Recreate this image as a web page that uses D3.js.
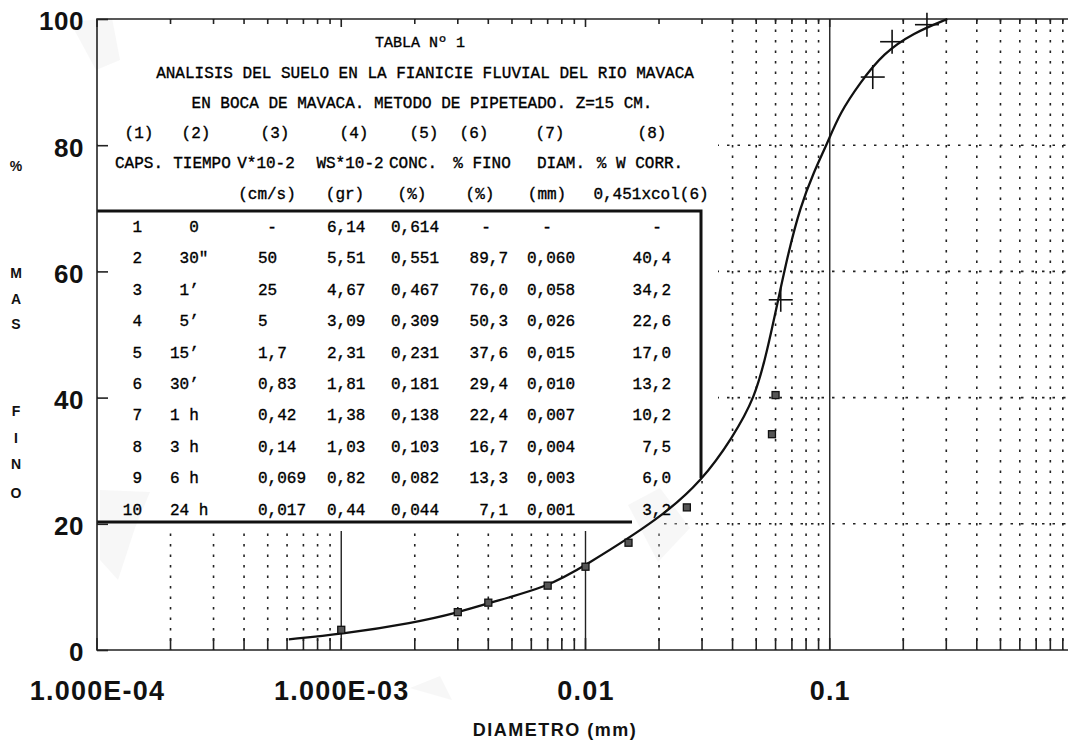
<!DOCTYPE html>
<html>
<head>
<meta charset="utf-8">
<script src="https://cdn.jsdelivr.net/npm/d3@7"></script>
<style>
body { margin: 0; background: #fff; }
</style>
</head>
<body>
<svg width="1068" height="740"></svg>
<script>
// ---- TABLA Nº 1 (typed sheet pasted on the plot) ----
var caps      = ["1","2","3","4","5","6","7","8","9","10"];
var tiempo    = ["\u00a0\u00a00","\u00a030\"","\u00a01\u2019","\u00a05\u2019","15\u2019","30\u2019","1 h","3 h","6 h","24 h"];
var velocidad = ["-","50","25","5","1,7","0,83","0,42","0,14","0,069","0,017"];
var pesoWs    = ["6,14","5,51","4,67","3,09","2,31","1,81","1,38","1,03","0,82","0,44"];
var conc      = ["0,614","0,551","0,467","0,309","0,231","0,181","0,138","0,103","0,082","0,044"];
var pctFino   = ["-","89,7","76,0","50,3","37,6","29,4","22,4","16,7","13,3","7,1"];
var diam      = ["-","0,060","0,058","0,026","0,015","0,010","0,007","0,004","0,003","0,001"];
var wCorr     = ["-","40,4","34,2","22,6","17,0","13,2","10,2","7,5","6,0","3,2"];

var titleLines = ["TABLA N\u00ba 1",
                  "ANALISIS DEL SUELO EN LA FIANICIE FLUVIAL DEL RIO MAVACA",
                  "EN BOCA DE MAVACA. METODO DE PIPETEADO. Z=15 CM."];
var colNumbers = ["(1)","(2)","(3)","(4)","(5)","(6)","(7)","(8)"];
var colNames   = ["CAPS.","TIEMPO","V*10-2","WS*10-2","CONC.","% FINO","DIAM.","% W CORR."];
var colUnits   = ["","","(cm/s)","(gr)","(%)","(%)","(mm)","0,451xcol(6)"];

// ---- sieve points (crosses) ----
var sieveDiam = [0.063, 0.15, 0.18, 0.25];
var sieveFino = [55.5, 90.8, 96.4, 99.1];

// ---- drawn curve ----
var curveDiam = [0.00061,0.001,0.00198,0.00299,0.00397,0.0070,0.0098,0.0203,0.0301,0.0399,0.0495,0.0555,0.0615,0.0676,0.0757,0.0857,0.0977,0.110,0.133,0.166,0.220,0.303];
var curveFino = [1.7,2.5,4.3,5.9,7.4,10.0,13.2,20.9,26.9,33.6,40.0,47.5,55.5,62.9,70.2,75.6,80.3,85.1,89.9,94.6,97.8,100];

// ---- axes ----
var yTicks = [0,20,40,60,80,100];
var xLabelValues = [1e-4,1e-3,1e-2,1e-1];
var xLabels = ["1.000E-04","1.000E-03","0.01","0.1"];
var yTitle = ["%","M","A","S","F","I","N","O"];

var toNum = function(s) { return +s.replace(",", "."); };

var xScale = d3.scaleLog().domain([1e-4, 1]).range([97, 1074]);
var yScale = d3.scaleLinear().domain([0, 100]).range([650, 19]);

var svg = d3.select("svg");
var top_ = yScale(100), bottom = yScale(0), left = xScale(1e-4), right = xScale(1);

var allTicks = xScale.ticks();
var decades = [1e-3, 1e-2, 1e-1];
var isDecade = function(d) { return Math.abs(Math.log10(d) - Math.round(Math.log10(d))) < 1e-6; };

// dotted grid
var grid = svg.append("g").attr("stroke", "#222").attr("stroke-width", 1.6).attr("stroke-dasharray", "2.5,8");
grid.selectAll(".vx")
    .data(allTicks.filter(function(d){ return !isDecade(d); }))
    .enter().append("line")
    .attr("x1", function(d){ return xScale(d); })
    .attr("x2", function(d){ return xScale(d); })
    .attr("y1", top_).attr("y2", bottom);
grid.selectAll(".hy")
    .data([20,40,60,80])
    .enter().append("line")
    .attr("x1", left).attr("x2", right)
    .attr("y1", function(d){ return yScale(d); })
    .attr("y2", function(d){ return yScale(d); });

// solid decade lines
svg.append("g").selectAll("line")
    .data(decades)
    .enter().append("line")
    .attr("x1", function(d){ return xScale(d); })
    .attr("x2", function(d){ return xScale(d); })
    .attr("y1", top_).attr("y2", bottom)
    .attr("stroke", "#222").attr("stroke-width", 1.4);

// paper of the table covers the grid
svg.append("rect").attr("x", left + 1).attr("y", top_ + 1).attr("width", 717 - left).attr("height", 478 - top_).attr("fill", "#fff");
svg.append("rect").attr("x", left + 1).attr("y", 470).attr("width", 663 - left).attr("height", 61).attr("fill", "#fff");

// faint tape patches
var tape = svg.append("g").attr("fill", "#e4e4e4").attr("fill-opacity", 0.3);
tape.append("polygon").attr("points", "100,490 150,492 135,528 118,580 100,560");
tape.append("polygon").attr("points", "628,505 660,488 690,528 658,562");
tape.append("polygon").attr("points", "410,688 440,676 452,700");
tape.append("polygon").attr("points", "70,22 112,18 120,60 96,70");

// table text
var table = svg.append("g").attr("font-family", "'Liberation Mono', 'DejaVu Sans Mono', monospace")
    .attr("font-size", 16).attr("fill", "#000")
    .attr("stroke", "#000").attr("stroke-width", 0.35);

var titleY = [47, 78, 108];
var titleX = [420, 425, 422];
table.selectAll(".title")
    .data(titleLines)
    .enter().append("text")
    .attr("x", function(d, i){ return titleX[i]; })
    .attr("y", function(d, i){ return titleY[i]; })
    .attr("text-anchor", "middle")
    .attr("font-size", function(d, i){ return i == 0 ? 15 : 16; })
    .text(function(d){ return d; });

var numX  = [139,196,275,354,424,474,550,652];
var nameX = [139,202,266,350,413,482,561,640];
var unitX = [139,202,267,345,412,480,547,651];
table.selectAll(".num").data(colNumbers).enter().append("text")
    .attr("x", function(d, i){ return numX[i]; }).attr("y", 138)
    .attr("text-anchor", "middle").text(function(d){ return d; });
table.selectAll(".name").data(colNames).enter().append("text")
    .attr("x", function(d, i){ return nameX[i]; }).attr("y", 168)
    .attr("text-anchor", "middle").text(function(d){ return d; });
table.selectAll(".unit").data(colUnits).enter().append("text")
    .attr("x", function(d, i){ return unitX[i]; }).attr("y", 199)
    .attr("text-anchor", "middle").text(function(d){ return d; });

var rowY = function(i) { return 232 + i * 31.4; };
// column: values, anchor x, text-anchor, x used for a dash
var columns = [
    {vals: caps,      x: 142, anchor: "end",   dash: 0},
    {vals: tiempo,    x: 170, anchor: "start", dash: 0},
    {vals: velocidad, x: 258, anchor: "start", dash: 272},
    {vals: pesoWs,    x: 327, anchor: "start", dash: 0},
    {vals: conc,      x: 391, anchor: "start", dash: 0},
    {vals: pctFino,   x: 508, anchor: "end",   dash: 486},
    {vals: diam,      x: 527, anchor: "start", dash: 547},
    {vals: wCorr,     x: 671, anchor: "end",   dash: 657}
];
columns.forEach(function(col) {
    table.append("g").selectAll("text")
        .data(col.vals)
        .enter().append("text")
        .attr("x", function(d){ return d == "-" ? col.dash : col.x; })
        .attr("y", function(d, i){ return rowY(i); })
        .attr("text-anchor", function(d){ return d == "-" ? "middle" : col.anchor; })
        .text(function(d){ return d; });
});

// table rules
var rules = svg.append("g").attr("stroke", "#111").attr("stroke-width", 3).attr("fill", "none");
rules.append("path").attr("d", "M" + left + ",211 H701 V478");
rules.append("path").attr("d", "M" + left + ",522 H632");

// frame and ticks
var frame = svg.append("g").attr("stroke", "#222").attr("stroke-width", 1.6);
frame.append("path").attr("fill", "none")
    .attr("d", "M" + right + "," + top_ + " H" + left + " V" + bottom + " H" + right);
frame.selectAll(".tb").data(allTicks).enter().append("line")
    .attr("x1", function(d){ return xScale(d); }).attr("x2", function(d){ return xScale(d); })
    .attr("y1", bottom).attr("y2", bottom - 12);
frame.selectAll(".tt").data(allTicks).enter().append("line")
    .attr("x1", function(d){ return xScale(d); }).attr("x2", function(d){ return xScale(d); })
    .attr("y1", top_).attr("y2", function(d){ return top_ + (isDecade(d) ? 8 : 5); });

// y axis labels and inner ticks
var yAxis = d3.axisLeft(yScale).tickValues(yTicks).tickSizeInner(-11).tickSizeOuter(0).tickPadding(13);
var gy = svg.append("g").attr("transform", "translate(" + left + ",0)").call(yAxis);
gy.select(".domain").remove();
gy.selectAll("line").attr("stroke", "#222").attr("stroke-width", 1.6);
gy.selectAll("text").attr("font-family", "'Liberation Sans', Arial, sans-serif")
    .attr("font-weight", "bold").attr("font-size", 26).attr("letter-spacing", 0.5)
    .attr("fill", "#111").attr("dy", "0.42em");

// x axis labels
var xAxis = d3.axisBottom(xScale).tickValues(xLabelValues)
    .tickFormat(function(d, i){ return xLabels[i]; }).tickSize(0).tickPadding(31);
var gx = svg.append("g").attr("transform", "translate(0," + bottom + ")").call(xAxis);
gx.select(".domain").remove();
gx.selectAll("text").attr("font-family", "'Liberation Sans', Arial, sans-serif")
    .attr("font-weight", "bold").attr("font-size", 27).attr("letter-spacing", 1.2)
    .attr("fill", "#111");

svg.append("text").attr("x", 555).attr("y", 736)
    .attr("text-anchor", "middle")
    .attr("font-family", "'Liberation Sans', Arial, sans-serif")
    .attr("font-weight", "bold").attr("font-size", 18).attr("letter-spacing", 1.5)
    .attr("fill", "#111").text("DIAMETRO (mm)");

var yTitleY = [171, 278, 304, 329, 416, 443, 469, 498];
svg.append("g").selectAll("text").data(yTitle).enter().append("text")
    .attr("x", 16).attr("y", function(d, i){ return yTitleY[i]; })
    .attr("text-anchor", "middle")
    .attr("font-family", "'Liberation Sans', Arial, sans-serif")
    .attr("font-weight", "bold").attr("font-size", 14)
    .attr("fill", "#111").text(function(d){ return d; });

// fitted curve
var curvePts = curveDiam.map(function(d, i){ return [d, curveFino[i]]; });
var lineGenerator = d3.line()
    .x(function(p){ return xScale(p[0]); })
    .y(function(p){ return yScale(p[1]); })
    .curve(d3.curveBasis);
svg.append("path").datum(curvePts)
    .attr("d", lineGenerator)
    .attr("fill", "none").attr("stroke", "#111").attr("stroke-width", 2.3);

// pipette points from table (col 7 vs col 8)
var pipette = diam.map(function(d, i){ return [d, wCorr[i]]; })
    .filter(function(p){ return p[0] != "-"; })
    .map(function(p){ return [toNum(p[0]), toNum(p[1])]; });
svg.append("g").selectAll("rect").data(pipette).enter().append("rect")
    .attr("x", function(p){ return xScale(p[0]) - 3.5; })
    .attr("y", function(p){ return yScale(p[1]) - 3.5; })
    .attr("width", 7).attr("height", 7)
    .attr("fill", "#555").attr("stroke", "#111").attr("stroke-width", 1.3);

// sieve crosses
var crosses = svg.append("g").attr("stroke", "#111").attr("stroke-width", 1.6);
sieveDiam.forEach(function(d, i) {
    var cx = xScale(d), cy = yScale(sieveFino[i]);
    crosses.append("line").attr("x1", cx - 12).attr("x2", cx + 12).attr("y1", cy).attr("y2", cy);
    crosses.append("line").attr("x1", cx).attr("x2", cx).attr("y1", cy - 12).attr("y2", cy + 12);
});
</script>
</body>
</html>
